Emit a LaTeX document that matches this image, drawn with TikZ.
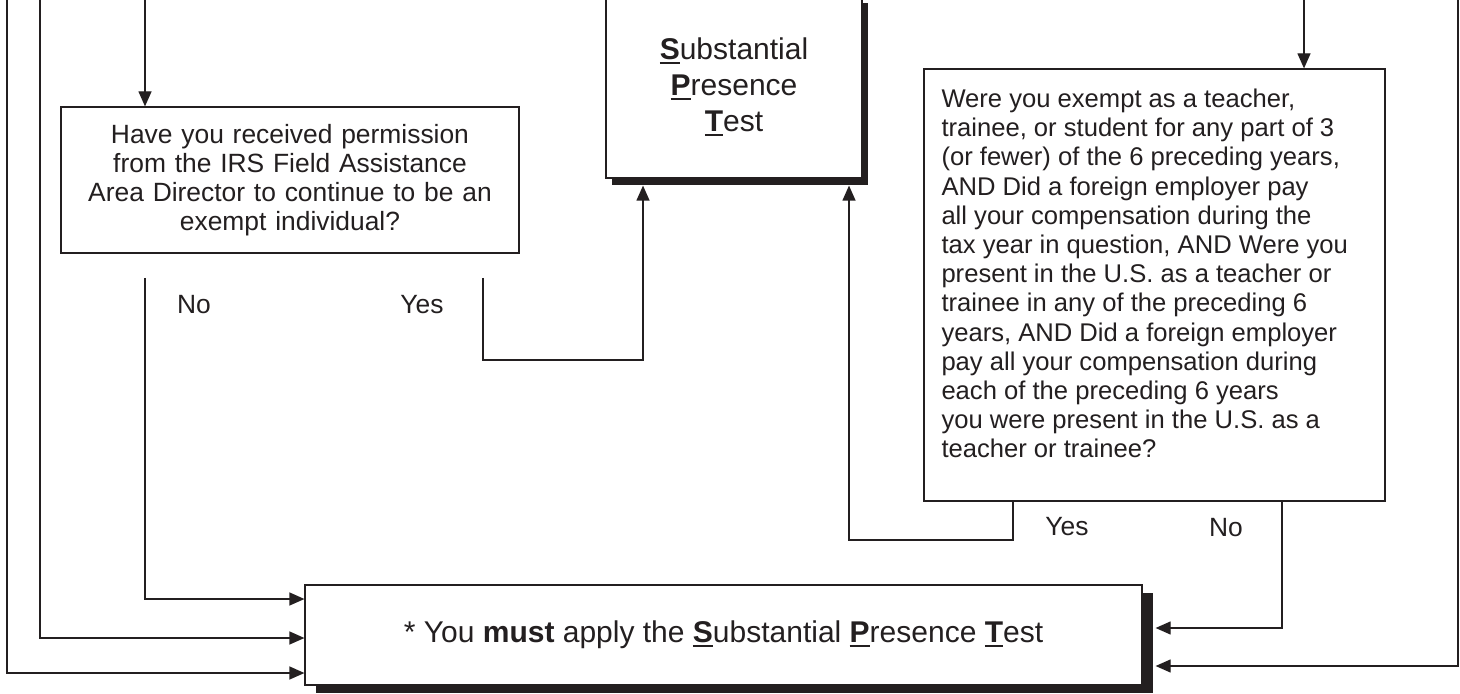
\documentclass[tikz,border=0pt]{standalone}
\usepackage{fontspec}
\setmainfont{Liberation Sans}
\usetikzlibrary{arrows.meta,shadows}
\definecolor{ink}{HTML}{231F20}
\newsavebox{\keybox}
\newcommand{\keyletter}[1]{\sbox{\keybox}{\textbf{#1}}\rlap{\rule[-2.2pt]{\wd\keybox}{0.9pt}}\usebox{\keybox}}

\begin{document}
\begin{tikzpicture}[>={Triangle[length=7.5pt,width=6.5pt]}, x=0.5pt, y=-0.5pt, line width=0.6pt, color=ink,
	font=\fontsize{13.2}{14.6}\selectfont,
	qbox/.style={draw, fill=white, rectangle, inner sep=0pt},
	heavy/.style={qbox, font=\fontsize{15}{18}\selectfont},
	lbl/.style={inner sep=0pt}]
	\useasboundingbox (0,0) rectangle (1460,694);

	\node[qbox, minimum width=229pt, minimum height=73pt, text width=220pt, align=center] (perm) at (290,180)
		{Have you received permission\\ from the IRS Field Assistance\\ Area Director to continue to be an\\ exempt individual?};
	\node[heavy, minimum width=128pt, minimum height=91pt, align=center,
		drop shadow={shadow xshift=3pt, shadow yshift=-3.5pt, fill=ink, opacity=1}] (spt) at (734,87)
		{\keyletter{S}ubstantial\\ \keyletter{P}resence\\ \keyletter{T}est};
	\node[qbox, minimum width=230.5pt, minimum height=216pt, inner xsep=8.5pt, inner ysep=10pt] (teach) at (1154.5,285)
		{\parbox[c][196pt][t]{213pt}{\raggedright\fontsize{12.8}{14.6}\selectfont
		Were you exempt as a teacher,\\ trainee, or student for any part of 3\\ (or fewer) of the 6 preceding years,\\
		AND Did a foreign employer pay\\ all your compensation during the\\ tax year in question, AND Were you\\
		present in the U.S. as a teacher or\\ trainee in any of the preceding 6\\ years, AND Did a foreign employer\\
		pay all your compensation during\\ each of the preceding 6 years\\ you were present in the U.S. as a\\
		teacher or trainee?}};
	\node[heavy, minimum width=418.5pt, minimum height=50pt,
		drop shadow={shadow xshift=5.5pt, shadow yshift=-4pt, fill=ink, opacity=1}] (must) at (723.5,635)
		{* You \textbf{must} apply the \keyletter{S}ubstantial \keyletter{P}resence \keyletter{T}est};

	\node[lbl] (noA) at (194,305) {No};
	\node[lbl] (yesA) at (422,305) {Yes};
	\node[lbl] (yesB) at (1067,527) {Yes};
	\node[lbl] (noB) at (1226,528) {No};

	% free ends
	\coordinate (inPerm) at (145,0);
	\coordinate (inTeach) at (1304,0);
	\coordinate (farL) at (7,0);
	\coordinate (midL) at (40,0);
	\coordinate (farR) at (1458,0);
	\coordinate (noAtop) at (145,278);
	\coordinate (yesAtop) at (483,278);
	\coordinate (yesAbot) at (483,360);
	\coordinate (yesBtop) at (teach.south -| 1013,0);
	\coordinate (yesBbot) at (1013,540);
	\coordinate (noBtop) at (teach.south -| 1282,0);
	\coordinate (m1) at ([yshift=18pt]must.west);
	\coordinate (m2) at ([yshift=-1.5pt]must.west);
	\coordinate (m3) at ([yshift=-19pt]must.west);
	\coordinate (r1) at ([xshift=6.5pt, yshift=3.5pt]must.east);
	\coordinate (r2) at ([xshift=6.5pt, yshift=-15.5pt]must.east);

	\draw[->] (inPerm) -- (inPerm |- perm.north);
	\draw[->] (inTeach) -- (inTeach |- teach.north);
	\draw[->] (noAtop) |- (m1);
	\draw[->] (midL) |- (m2);
	\draw[->] (farL) |- (m3);
	\draw[->] (yesAtop) -- (yesAbot) -| ([xshift=-45.5pt, yshift=-3.5pt]spt.south);
	\draw[->] (yesBtop) -- (yesBbot) -| ([xshift=57.5pt, yshift=-3.5pt]spt.south);
	\draw[->] (noBtop) |- (r1);
	\draw[->] (farR) |- (r2);
\end{tikzpicture}
\end{document}
